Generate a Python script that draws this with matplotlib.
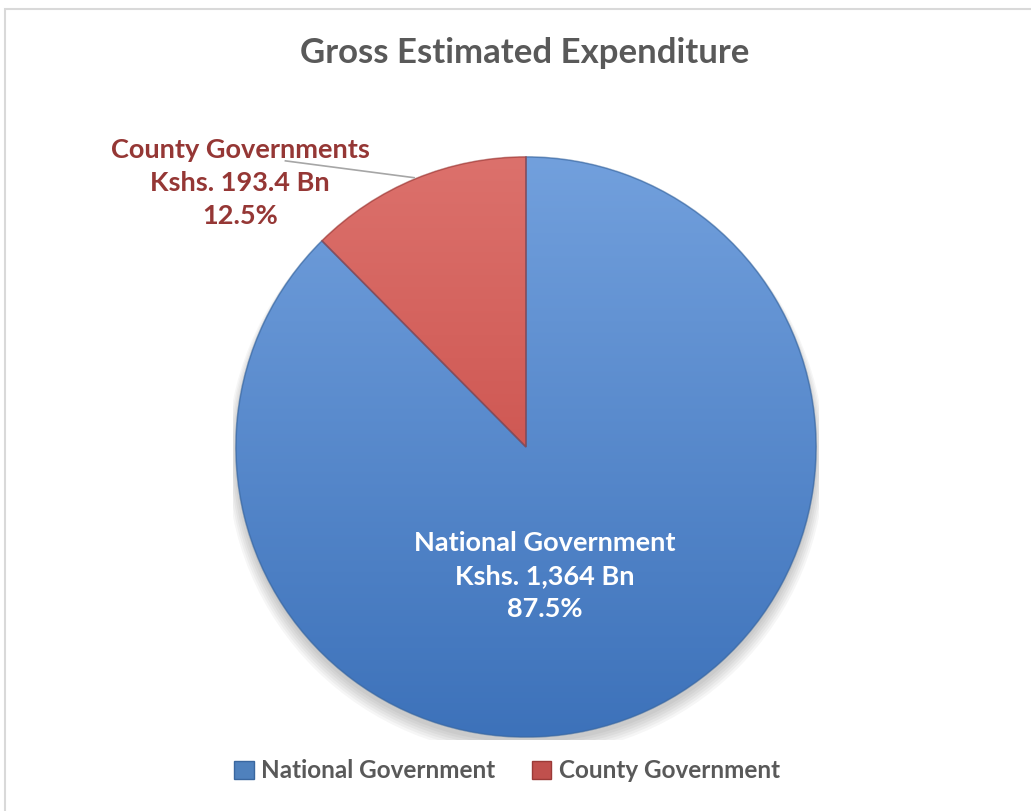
import numpy as np
import matplotlib.pyplot as plt
from matplotlib.patches import Rectangle, Ellipse, PathPatch
from matplotlib.colors import LinearSegmentedColormap

#----Data----
categories = ['National Government', 'County Government']
values = [1364, 193.4]
slice_labels = ['National Government\nKshs. 1,364 Bn\n87.5%',
                'County Governments\nKshs. 193.4 Bn\n12.5%']
title = 'Gross Estimated Expenditure'

plt.rcParams['font.family'] = ['Lato', 'DejaVu Sans']

fig = plt.figure(figsize=(10.31, 8.11), dpi=100)
fig.patch.set_facecolor('white')

# light chart-area border
fig.patches.append(Rectangle((5/1031, -0.01), 1.02, 1 - 9/811 + 0.01, transform=fig.transFigure,
                             fill=False, edgecolor='#d9d9d9', linewidth=1.5))

cx, cy, r = 526/1031, 1 - 447/811, 293
ax = fig.add_axes([cx - r/1031, cy - r/811, 2*r/1031, 2*r/811])

#----shadow under the pie----
for i in range(6):
    ax.add_patch(Ellipse((0, -0.02 - i*0.004), 2.0 + i*0.012, 2.0 + i*0.01,
                         facecolor='#000000', alpha=0.035, edgecolor='none', zorder=0))

wedges, _ = ax.pie(values, startangle=90, counterclock=False, radius=1,
                   colors=['#4f81bd', '#c0504d'],
                   wedgeprops=dict(edgecolor='none', linewidth=0))

grads = [('#72a0dd', '#3d72ba'), ('#dc716c', '#c2403b')]
edges = ['#3a679f', '#9b3a37']
grad = np.linspace(1, 0, 256).reshape(-1, 1)
for w, (top, bot), ec in zip(wedges, grads, edges):
    cmap = LinearSegmentedColormap.from_list('g', [bot, top])
    im = ax.imshow(grad, extent=[-1, 1, -1, 1], cmap=cmap, aspect='auto', zorder=2)
    im.set_clip_path(w)
    w.set_zorder(1)
    ax.add_patch(PathPatch(w.get_path(), transform=w.get_transform(), fill=False,
                           edgecolor=ec, linewidth=1.2, alpha=0.6, zorder=3))

ax.set_xlim(-1.01, 1.01)
ax.set_ylim(-1.01, 1.01)
ax.set_aspect('auto')
ax.axis('off')

#----labels----
ax.text(0.065, -0.444, slice_labels[0], ha='center', va='center', color='white',
        fontsize=19.5, fontweight='bold', linespacing=1.45, zorder=5)
ax.text(-0.986, 0.911, slice_labels[1], ha='center', va='center', color='#953735',
        fontsize=19.5, fontweight='bold', linespacing=1.45, zorder=5, clip_on=False)
ax.plot([(283-526)/293, (413-526)/293], [(447-158)/293, (447-175)/293],
        color='#a6a6a6', linewidth=1.2, clip_on=False, zorder=4)

fig.text(525/1031, 1 - 53/811, title, ha='center', va='center', color='#595959',
         fontsize=25, fontweight='bold')

#----legend----
handles = [Rectangle((0, 0), 1, 1, facecolor=c, edgecolor=e, linewidth=1)
           for c, e in zip(['#4f81bd', '#c0504d'], edges)]
leg = fig.legend(handles, categories, loc='center', bbox_to_anchor=(507/1031, 1 - 771/811),
                 ncol=2, frameon=False, handlelength=0.8, handleheight=0.8,
                 handletextpad=0.3, columnspacing=1.5,
                 prop=dict(size=17.5, weight='bold'))
for t in leg.get_texts():
    t.set_color('#595959')

fig.savefig('out.png', dpi=100)
